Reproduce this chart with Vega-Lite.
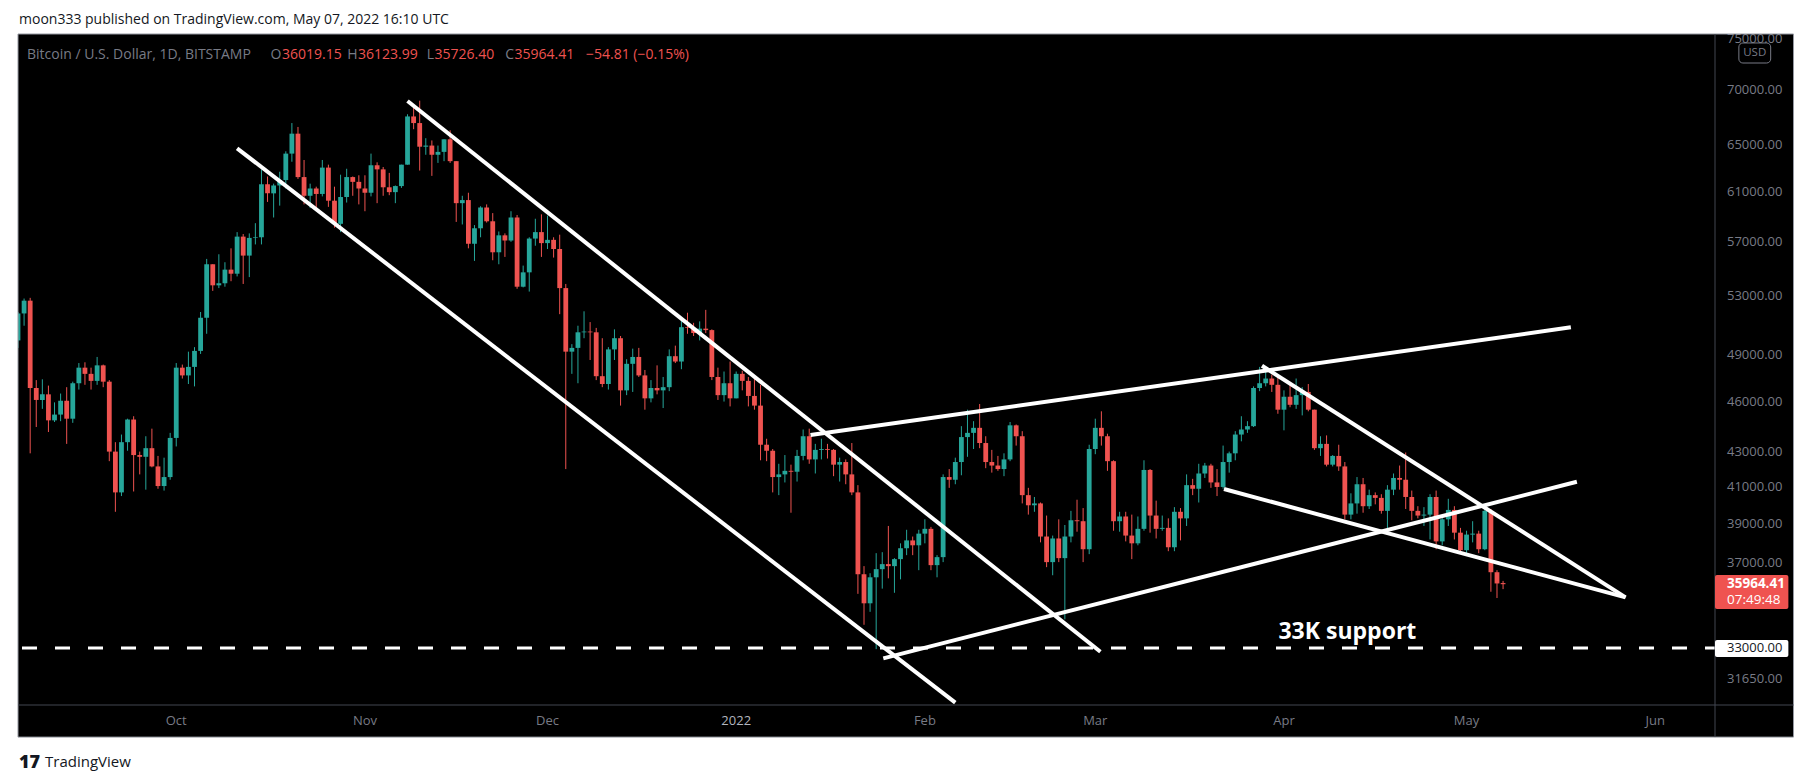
{
  "$schema": "https://vega.github.io/schema/vega-lite/v6.json",
  "width": 1707,
  "height": 671,
  "autosize": {"type": "none"},
  "padding": {"left": 13, "top": 34, "right": 93, "bottom": 78},
  "background": "#000000",
  "config": {"font": "Open Sans", "view": {"fill": "#000000", "stroke": null}},
  "datasets": {
    "btc": [
      {"d":"2021-09-05","o":49950,"h":51900,"l":49450,"c":51800},
      {"d":"2021-09-06","o":51800,"h":52850,"l":50950,"c":52700},
      {"d":"2021-09-07","o":52700,"h":52900,"l":42900,"c":46850},
      {"d":"2021-09-08","o":46850,"h":47350,"l":44450,"c":46100},
      {"d":"2021-09-09","o":46100,"h":47400,"l":45550,"c":46450},
      {"d":"2021-09-10","o":46450,"h":47000,"l":44150,"c":44850},
      {"d":"2021-09-11","o":44850,"h":45950,"l":44750,"c":45200},
      {"d":"2021-09-12","o":45200,"h":46500,"l":44800,"c":46050},
      {"d":"2021-09-13","o":46050,"h":46900,"l":43450,"c":44950},
      {"d":"2021-09-14","o":44950,"h":47250,"l":44700,"c":47150},
      {"d":"2021-09-15","o":47150,"h":48450,"l":46750,"c":48150},
      {"d":"2021-09-16","o":48150,"h":48500,"l":47050,"c":47750},
      {"d":"2021-09-17","o":47750,"h":48150,"l":46750,"c":47300},
      {"d":"2021-09-18","o":47300,"h":48850,"l":47050,"c":48300},
      {"d":"2021-09-19","o":48300,"h":48350,"l":46900,"c":47250},
      {"d":"2021-09-20","o":47250,"h":47350,"l":42450,"c":43000},
      {"d":"2021-09-21","o":43000,"h":43550,"l":39650,"c":40700},
      {"d":"2021-09-22","o":40700,"h":44000,"l":40500,"c":43550},
      {"d":"2021-09-23","o":43550,"h":44950,"l":43050,"c":44900},
      {"d":"2021-09-24","o":44900,"h":45100,"l":40750,"c":42800},
      {"d":"2021-09-25","o":42800,"h":43000,"l":41700,"c":42700},
      {"d":"2021-09-26","o":42700,"h":43900,"l":40850,"c":43200},
      {"d":"2021-09-27","o":43200,"h":44350,"l":42100,"c":42150},
      {"d":"2021-09-28","o":42150,"h":42750,"l":40900,"c":41050},
      {"d":"2021-09-29","o":41050,"h":42650,"l":40800,"c":41550},
      {"d":"2021-09-30","o":41550,"h":44100,"l":41400,"c":43800},
      {"d":"2021-10-01","o":43800,"h":48450,"l":43300,"c":48150},
      {"d":"2021-10-02","o":48150,"h":48350,"l":47450,"c":47650},
      {"d":"2021-10-03","o":47650,"h":49200,"l":47100,"c":48200},
      {"d":"2021-10-04","o":48200,"h":49500,"l":46950,"c":49250},
      {"d":"2021-10-05","o":49250,"h":51900,"l":49050,"c":51500},
      {"d":"2021-10-06","o":51500,"h":55750,"l":50400,"c":55350},
      {"d":"2021-10-07","o":55350,"h":55350,"l":53400,"c":53800},
      {"d":"2021-10-08","o":53800,"h":56100,"l":53600,"c":53950},
      {"d":"2021-10-09","o":53950,"h":55500,"l":53700,"c":54950},
      {"d":"2021-10-10","o":54950,"h":56550,"l":54100,"c":54650},
      {"d":"2021-10-11","o":54650,"h":57800,"l":54450,"c":57450},
      {"d":"2021-10-12","o":57450,"h":57650,"l":53900,"c":56000},
      {"d":"2021-10-13","o":56000,"h":57700,"l":54400,"c":57350},
      {"d":"2021-10-14","o":57350,"h":58500,"l":56850,"c":57400},
      {"d":"2021-10-15","o":57400,"h":62900,"l":56850,"c":61650},
      {"d":"2021-10-16","o":61650,"h":62300,"l":60200,"c":60900},
      {"d":"2021-10-17","o":60900,"h":61700,"l":58950,"c":61550},
      {"d":"2021-10-18","o":61550,"h":62700,"l":59900,"c":62000},
      {"d":"2021-10-19","o":62000,"h":64450,"l":61300,"c":64250},
      {"d":"2021-10-20","o":64250,"h":66950,"l":63550,"c":66000},
      {"d":"2021-10-21","o":66000,"h":66600,"l":62100,"c":62250},
      {"d":"2021-10-22","o":62250,"h":63700,"l":60000,"c":60700},
      {"d":"2021-10-23","o":60700,"h":61700,"l":59700,"c":61300},
      {"d":"2021-10-24","o":61300,"h":61450,"l":59500,"c":60850},
      {"d":"2021-10-25","o":60850,"h":63700,"l":60650,"c":63050},
      {"d":"2021-10-26","o":63050,"h":63300,"l":59800,"c":60300},
      {"d":"2021-10-27","o":60300,"h":61450,"l":58150,"c":58450},
      {"d":"2021-10-28","o":58450,"h":62450,"l":57800,"c":60600},
      {"d":"2021-10-29","o":60600,"h":62950,"l":60150,"c":62250},
      {"d":"2021-10-30","o":62250,"h":62300,"l":60700,"c":61850},
      {"d":"2021-10-31","o":61850,"h":62400,"l":60000,"c":61300},
      {"d":"2021-11-01","o":61300,"h":62400,"l":59450,"c":60950},
      {"d":"2021-11-02","o":60950,"h":64250,"l":60650,"c":63250},
      {"d":"2021-11-03","o":63250,"h":63500,"l":60100,"c":62900},
      {"d":"2021-11-04","o":62900,"h":63100,"l":60700,"c":61400},
      {"d":"2021-11-05","o":61400,"h":62600,"l":60750,"c":61000},
      {"d":"2021-11-06","o":61000,"h":61550,"l":60100,"c":61500},
      {"d":"2021-11-07","o":61500,"h":63300,"l":61350,"c":63300},
      {"d":"2021-11-08","o":63300,"h":67750,"l":63300,"c":67550},
      {"d":"2021-11-09","o":67550,"h":68500,"l":66400,"c":66950},
      {"d":"2021-11-10","o":66950,"h":69000,"l":62800,"c":64850},
      {"d":"2021-11-11","o":64850,"h":65600,"l":64150,"c":64950},
      {"d":"2021-11-12","o":64950,"h":65400,"l":62350,"c":64150},
      {"d":"2021-11-13","o":64150,"h":64950,"l":63450,"c":64400},
      {"d":"2021-11-14","o":64400,"h":65500,"l":63600,"c":65500},
      {"d":"2021-11-15","o":65500,"h":66300,"l":63450,"c":63600},
      {"d":"2021-11-16","o":63600,"h":63600,"l":58600,"c":60100},
      {"d":"2021-11-17","o":60100,"h":60700,"l":58400,"c":60350},
      {"d":"2021-11-18","o":60350,"h":60950,"l":56550,"c":56900},
      {"d":"2021-11-19","o":56900,"h":58350,"l":55600,"c":58100},
      {"d":"2021-11-20","o":58100,"h":59850,"l":57400,"c":59750},
      {"d":"2021-11-21","o":59750,"h":60000,"l":58550,"c":58650},
      {"d":"2021-11-22","o":58650,"h":59300,"l":55650,"c":56250},
      {"d":"2021-11-23","o":56250,"h":57850,"l":55350,"c":57550},
      {"d":"2021-11-24","o":57550,"h":57700,"l":55900,"c":57150},
      {"d":"2021-11-25","o":57150,"h":59450,"l":57050,"c":58950},
      {"d":"2021-11-26","o":58950,"h":59150,"l":53550,"c":53700},
      {"d":"2021-11-27","o":53700,"h":55250,"l":53650,"c":54750},
      {"d":"2021-11-28","o":54750,"h":57400,"l":53350,"c":57300},
      {"d":"2021-11-29","o":57300,"h":58850,"l":56750,"c":57800},
      {"d":"2021-11-30","o":57800,"h":59200,"l":55900,"c":56950},
      {"d":"2021-12-01","o":56950,"h":59100,"l":56500,"c":57200},
      {"d":"2021-12-02","o":57200,"h":57400,"l":55850,"c":56500},
      {"d":"2021-12-03","o":56500,"h":57600,"l":51750,"c":53600},
      {"d":"2021-12-04","o":53600,"h":53900,"l":42000,"c":49200},
      {"d":"2021-12-05","o":49200,"h":49700,"l":47750,"c":49450},
      {"d":"2021-12-06","o":49450,"h":50950,"l":47150,"c":50500},
      {"d":"2021-12-07","o":50500,"h":51950,"l":50100,"c":50550},
      {"d":"2021-12-08","o":50550,"h":51200,"l":48650,"c":50500},
      {"d":"2021-12-09","o":50500,"h":50800,"l":47350,"c":47600},
      {"d":"2021-12-10","o":47600,"h":50100,"l":46900,"c":47100},
      {"d":"2021-12-11","o":47100,"h":49500,"l":46750,"c":49350},
      {"d":"2021-12-12","o":49350,"h":50700,"l":48650,"c":50100},
      {"d":"2021-12-13","o":50100,"h":50250,"l":45750,"c":46700},
      {"d":"2021-12-14","o":46700,"h":48700,"l":46400,"c":48400},
      {"d":"2021-12-15","o":48400,"h":49400,"l":46600,"c":48850},
      {"d":"2021-12-16","o":48850,"h":49450,"l":47550,"c":47650},
      {"d":"2021-12-17","o":47650,"h":48000,"l":45500,"c":46200},
      {"d":"2021-12-18","o":46200,"h":47350,"l":45950,"c":46850},
      {"d":"2021-12-19","o":46850,"h":48300,"l":46450,"c":46700},
      {"d":"2021-12-20","o":46700,"h":47550,"l":45600,"c":46900},
      {"d":"2021-12-21","o":46900,"h":49350,"l":46650,"c":48900},
      {"d":"2021-12-22","o":48900,"h":49600,"l":48450,"c":48550},
      {"d":"2021-12-23","o":48550,"h":51350,"l":48050,"c":50850},
      {"d":"2021-12-24","o":50850,"h":51850,"l":50400,"c":50800},
      {"d":"2021-12-25","o":50800,"h":51150,"l":50250,"c":50450},
      {"d":"2021-12-26","o":50450,"h":51250,"l":49950,"c":50750},
      {"d":"2021-12-27","o":50750,"h":52050,"l":50450,"c":50650},
      {"d":"2021-12-28","o":50650,"h":50700,"l":47350,"c":47550},
      {"d":"2021-12-29","o":47550,"h":48150,"l":46100,"c":46400},
      {"d":"2021-12-30","o":46400,"h":47900,"l":46000,"c":47150},
      {"d":"2021-12-31","o":47150,"h":48550,"l":45700,"c":46200},
      {"d":"2022-01-01","o":46200,"h":47900,"l":46200,"c":47750},
      {"d":"2022-01-02","o":47750,"h":47950,"l":46700,"c":47300},
      {"d":"2022-01-03","o":47300,"h":47550,"l":45700,"c":46350},
      {"d":"2022-01-04","o":46350,"h":47500,"l":45500,"c":45750},
      {"d":"2022-01-05","o":45750,"h":47050,"l":42500,"c":43400},
      {"d":"2022-01-06","o":43400,"h":43750,"l":42450,"c":43050},
      {"d":"2022-01-07","o":43050,"h":43150,"l":40700,"c":41550},
      {"d":"2022-01-08","o":41550,"h":42300,"l":40550,"c":41700},
      {"d":"2022-01-09","o":41700,"h":42800,"l":41250,"c":41900},
      {"d":"2022-01-10","o":41900,"h":42250,"l":39600,"c":41850},
      {"d":"2022-01-11","o":41850,"h":43100,"l":41300,"c":42750},
      {"d":"2022-01-12","o":42750,"h":44300,"l":42500,"c":43900},
      {"d":"2022-01-13","o":43900,"h":44350,"l":42300,"c":42550},
      {"d":"2022-01-14","o":42550,"h":43450,"l":41750,"c":43100},
      {"d":"2022-01-15","o":43100,"h":43750,"l":42550,"c":43150},
      {"d":"2022-01-16","o":43150,"h":43450,"l":42600,"c":43100},
      {"d":"2022-01-17","o":43100,"h":43150,"l":41600,"c":42250},
      {"d":"2022-01-18","o":42250,"h":42650,"l":41300,"c":42400},
      {"d":"2022-01-19","o":42400,"h":42550,"l":41150,"c":41700},
      {"d":"2022-01-20","o":41700,"h":43500,"l":40550,"c":40700},
      {"d":"2022-01-21","o":40700,"h":41100,"l":35500,"c":36450},
      {"d":"2022-01-22","o":36450,"h":36850,"l":34050,"c":35050},
      {"d":"2022-01-23","o":35050,"h":36500,"l":34650,"c":36300},
      {"d":"2022-01-24","o":36300,"h":37500,"l":32950,"c":36700},
      {"d":"2022-01-25","o":36700,"h":37550,"l":35750,"c":36950},
      {"d":"2022-01-26","o":36950,"h":38900,"l":36250,"c":36850},
      {"d":"2022-01-27","o":36850,"h":37250,"l":35550,"c":37200},
      {"d":"2022-01-28","o":37200,"h":38000,"l":36200,"c":37750},
      {"d":"2022-01-29","o":37750,"h":38700,"l":37400,"c":38150},
      {"d":"2022-01-30","o":38150,"h":38350,"l":37400,"c":37900},
      {"d":"2022-01-31","o":37900,"h":38700,"l":36650,"c":38500},
      {"d":"2022-02-01","o":38500,"h":39250,"l":38000,"c":38750},
      {"d":"2022-02-02","o":38750,"h":38850,"l":36650,"c":36900},
      {"d":"2022-02-03","o":36900,"h":37400,"l":36300,"c":37300},
      {"d":"2022-02-04","o":37300,"h":41700,"l":37050,"c":41550},
      {"d":"2022-02-05","o":41550,"h":42000,"l":40950,"c":41400},
      {"d":"2022-02-06","o":41400,"h":42650,"l":41150,"c":42400},
      {"d":"2022-02-07","o":42400,"h":44500,"l":41650,"c":43850},
      {"d":"2022-02-08","o":43850,"h":45500,"l":42700,"c":44100},
      {"d":"2022-02-09","o":44100,"h":44800,"l":43150,"c":44400},
      {"d":"2022-02-10","o":44400,"h":45850,"l":43200,"c":43500},
      {"d":"2022-02-11","o":43500,"h":43900,"l":42050,"c":42400},
      {"d":"2022-02-12","o":42400,"h":43100,"l":41800,"c":42200},
      {"d":"2022-02-13","o":42200,"h":42750,"l":41900,"c":42000},
      {"d":"2022-02-14","o":42000,"h":42900,"l":41600,"c":42550},
      {"d":"2022-02-15","o":42550,"h":44750,"l":42450,"c":44550},
      {"d":"2022-02-16","o":44550,"h":44600,"l":43350,"c":43900},
      {"d":"2022-02-17","o":43900,"h":44200,"l":40100,"c":40550},
      {"d":"2022-02-18","o":40550,"h":40950,"l":39500,"c":40000},
      {"d":"2022-02-19","o":40000,"h":40450,"l":39650,"c":40100},
      {"d":"2022-02-20","o":40100,"h":40150,"l":38050,"c":38350},
      {"d":"2022-02-21","o":38350,"h":39450,"l":36800,"c":37050},
      {"d":"2022-02-22","o":37050,"h":38400,"l":36400,"c":38250},
      {"d":"2022-02-23","o":38250,"h":39250,"l":37050,"c":37250},
      {"d":"2022-02-24","o":37250,"h":38950,"l":34300,"c":38350},
      {"d":"2022-02-25","o":38350,"h":39700,"l":38050,"c":39200},
      {"d":"2022-02-26","o":39200,"h":40300,"l":38600,"c":39150},
      {"d":"2022-02-27","o":39150,"h":39850,"l":37050,"c":37700},
      {"d":"2022-02-28","o":37700,"h":43400,"l":37450,"c":43150},
      {"d":"2022-03-01","o":43150,"h":44950,"l":42850,"c":44400},
      {"d":"2022-03-02","o":44400,"h":45400,"l":43350,"c":43900},
      {"d":"2022-03-03","o":43900,"h":44050,"l":41900,"c":42450},
      {"d":"2022-03-04","o":42450,"h":42500,"l":38650,"c":39150},
      {"d":"2022-03-05","o":39150,"h":39650,"l":38600,"c":39400},
      {"d":"2022-03-06","o":39400,"h":39650,"l":38100,"c":38400},
      {"d":"2022-03-07","o":38400,"h":39500,"l":37200,"c":38000},
      {"d":"2022-03-08","o":38000,"h":39400,"l":37900,"c":38750},
      {"d":"2022-03-09","o":38750,"h":42500,"l":38650,"c":41950},
      {"d":"2022-03-10","o":41950,"h":42000,"l":38550,"c":39450},
      {"d":"2022-03-11","o":39450,"h":40250,"l":38250,"c":38750},
      {"d":"2022-03-12","o":38750,"h":39450,"l":38650,"c":38800},
      {"d":"2022-03-13","o":38800,"h":39300,"l":37600,"c":37800},
      {"d":"2022-03-14","o":37800,"h":39900,"l":37600,"c":39650},
      {"d":"2022-03-15","o":39650,"h":39850,"l":38150,"c":39300},
      {"d":"2022-03-16","o":39300,"h":41700,"l":38900,"c":41100},
      {"d":"2022-03-17","o":41100,"h":41450,"l":40550,"c":40900},
      {"d":"2022-03-18","o":40900,"h":42300,"l":40150,"c":41750},
      {"d":"2022-03-19","o":41750,"h":42350,"l":41500,"c":42200},
      {"d":"2022-03-20","o":42200,"h":42300,"l":40950,"c":41250},
      {"d":"2022-03-21","o":41250,"h":42000,"l":40500,"c":41000},
      {"d":"2022-03-22","o":41000,"h":43350,"l":40900,"c":42400},
      {"d":"2022-03-23","o":42400,"h":43000,"l":41800,"c":42900},
      {"d":"2022-03-24","o":42900,"h":44200,"l":42500,"c":44000},
      {"d":"2022-03-25","o":44000,"h":45100,"l":43600,"c":44300},
      {"d":"2022-03-26","o":44300,"h":44800,"l":44100,"c":44500},
      {"d":"2022-03-27","o":44500,"h":46950,"l":44450,"c":46850},
      {"d":"2022-03-28","o":46850,"h":48200,"l":46650,"c":47150},
      {"d":"2022-03-29","o":47150,"h":48100,"l":46950,"c":47450},
      {"d":"2022-03-30","o":47450,"h":47700,"l":46600,"c":47050},
      {"d":"2022-03-31","o":47050,"h":47600,"l":45250,"c":45500},
      {"d":"2022-04-01","o":45500,"h":46700,"l":44250,"c":46300},
      {"d":"2022-04-02","o":46300,"h":47200,"l":45650,"c":45800},
      {"d":"2022-04-03","o":45800,"h":47450,"l":45550,"c":46400},
      {"d":"2022-04-04","o":46400,"h":46900,"l":45150,"c":46600},
      {"d":"2022-04-05","o":46600,"h":47100,"l":45400,"c":45500},
      {"d":"2022-04-06","o":45500,"h":45500,"l":43100,"c":43200},
      {"d":"2022-04-07","o":43200,"h":43900,"l":42750,"c":43450},
      {"d":"2022-04-08","o":43450,"h":43950,"l":42150,"c":42250},
      {"d":"2022-04-09","o":42250,"h":42800,"l":42150,"c":42750},
      {"d":"2022-04-10","o":42750,"h":43400,"l":41900,"c":42150},
      {"d":"2022-04-11","o":42150,"h":42400,"l":39250,"c":39500},
      {"d":"2022-04-12","o":39500,"h":40650,"l":39250,"c":40100},
      {"d":"2022-04-13","o":40100,"h":41550,"l":39550,"c":41150},
      {"d":"2022-04-14","o":41150,"h":41500,"l":39600,"c":39950},
      {"d":"2022-04-15","o":39950,"h":40850,"l":39800,"c":40550},
      {"d":"2022-04-16","o":40550,"h":40700,"l":40050,"c":40400},
      {"d":"2022-04-17","o":40400,"h":40600,"l":39550,"c":39700},
      {"d":"2022-04-18","o":39700,"h":41100,"l":38550,"c":40850},
      {"d":"2022-04-19","o":40850,"h":41750,"l":40550,"c":41500},
      {"d":"2022-04-20","o":41500,"h":42200,"l":40850,"c":41400},
      {"d":"2022-04-21","o":41400,"h":42950,"l":39800,"c":40450},
      {"d":"2022-04-22","o":40450,"h":40800,"l":39200,"c":39700},
      {"d":"2022-04-23","o":39700,"h":39950,"l":39300,"c":39450},
      {"d":"2022-04-24","o":39450,"h":39900,"l":38900,"c":39500},
      {"d":"2022-04-25","o":39500,"h":40600,"l":38200,"c":40450},
      {"d":"2022-04-26","o":40450,"h":40800,"l":37700,"c":38100},
      {"d":"2022-04-27","o":38100,"h":39450,"l":37900,"c":39250},
      {"d":"2022-04-28","o":39250,"h":40350,"l":38900,"c":39750},
      {"d":"2022-04-29","o":39750,"h":39950,"l":38200,"c":38550},
      {"d":"2022-04-30","o":38550,"h":38800,"l":37600,"c":37650},
      {"d":"2022-05-01","o":37650,"h":38650,"l":37400,"c":38450},
      {"d":"2022-05-02","o":38450,"h":39150,"l":38050,"c":38500},
      {"d":"2022-05-03","o":38500,"h":38650,"l":37500,"c":37700},
      {"d":"2022-05-04","o":37700,"h":40000,"l":37650,"c":39700},
      {"d":"2022-05-05","o":39700,"h":39800,"l":35600,"c":36550},
      {"d":"2022-05-06","o":36550,"h":36650,"l":35300,"c":36000},
      {"d":"2022-05-07","o":36019.15,"h":36123.99,"l":35726.4,"c":35964.41}
    ],
    "trendlines": [
      {"x1":"2021-10-11T00:00:00Z","y1":64711,"x2":"2022-02-06T00:00:00Z","y2":30657},
      {"x1":"2021-11-08T00:00:00Z","y1":68970,"x2":"2022-03-01T20:10:00Z","y2":32835},
      {"x1":"2022-01-13T05:00:00Z","y1":43970,"x2":"2022-05-18T03:20:00Z","y2":50841},
      {"x1":"2022-01-25T04:00:00Z","y1":32545,"x2":"2022-05-19T03:00:00Z","y2":41286},
      {"x1":"2022-03-28T09:20:00Z","y1":48276,"x2":"2022-05-27T03:00:00Z","y2":35330},
      {"x1":"2022-03-22T03:20:00Z","y1":40886,"x2":"2022-05-27T03:00:00Z","y2":35330}
    ],
    "yticks": [
      {"v": 31650}, {"v": 37000}, {"v": 39000}, {"v": 41000}, {"v": 43000}, {"v": 46000},
      {"v": 49000}, {"v": 53000}, {"v": 57000}, {"v": 61000}, {"v": 65000}, {"v": 70000}, {"v": 75000}
    ],
    "xticks": [
      {"m": "2021-10-01", "t": "Oct"}, {"m": "2021-11-01", "t": "Nov"}, {"m": "2021-12-01", "t": "Dec"},
      {"m": "2022-01-01", "t": "2022"}, {"m": "2022-02-01", "t": "Feb"}, {"m": "2022-03-01", "t": "Mar"},
      {"m": "2022-04-01", "t": "Apr"}, {"m": "2022-05-01", "t": "May"}, {"m": "2022-06-01", "t": "Jun"}
    ]
  },
  "layer": [
    {
      "data": {"name": "btc"},
      "mark": {"type": "rule", "strokeWidth": 1, "clip": true},
      "encoding": {
        "x": {"field": "d", "type": "temporal", "axis": null,
              "scale": {"type": "utc", "nice": false, "domain": [{"year": 2021, "month": 9, "date": 5, "utc": true}, {"year": 2022, "month": 6, "date": 10, "hours": 19, "minutes": 40, "utc": true}]}},
        "y": {"field": "l", "type": "quantitative", "axis": null,
              "scale": {"type": "log", "nice": false, "zero": false, "domain": [30561, 75488]}},
        "y2": {"field": "h"},
        "color": {"condition": {"test": "datum.c >= datum.o", "value": "#26a69a"}, "value": "#ef5350"}
      }
    },
    {
      "data": {"name": "btc"},
      "mark": {"type": "bar", "width": 4.8, "clip": true},
      "encoding": {
        "x": {"field": "d", "type": "temporal", "axis": null,
              "scale": {"type": "utc", "nice": false, "domain": [{"year": 2021, "month": 9, "date": 5, "utc": true}, {"year": 2022, "month": 6, "date": 10, "hours": 19, "minutes": 40, "utc": true}]}},
        "y": {"field": "o", "type": "quantitative", "axis": null,
              "scale": {"type": "log", "nice": false, "zero": false, "domain": [30561, 75488]}},
        "y2": {"field": "c"},
        "color": {"condition": {"test": "datum.c >= datum.o", "value": "#26a69a"}, "value": "#ef5350"}
      }
    },
    {
      "data": {"name": "trendlines"},
      "mark": {"type": "rule", "color": "#ffffff", "strokeWidth": 4, "clip": true},
      "encoding": {
        "x": {"field": "x1", "type": "temporal", "axis": null,
              "scale": {"type": "utc", "nice": false, "domain": [{"year": 2021, "month": 9, "date": 5, "utc": true}, {"year": 2022, "month": 6, "date": 10, "hours": 19, "minutes": 40, "utc": true}]}},
        "x2": {"field": "x2"},
        "y": {"field": "y1", "type": "quantitative", "axis": null,
              "scale": {"type": "log", "nice": false, "zero": false, "domain": [30561, 75488]}},
        "y2": {"field": "y2"}
      }
    },
    {
      "data": {"values": [{}]},
      "mark": {"type": "rule", "color": "#ffffff", "strokeWidth": 3, "strokeDash": [15, 18]},
      "encoding": {
        "y": {"datum": 33000, "type": "quantitative", "axis": null,
              "scale": {"type": "log", "nice": false, "zero": false, "domain": [30561, 75488]}}
      }
    },
    {
      "data": {"values": [{}]},
      "mark": {"type": "text", "text": "33K support", "color": "#ffffff", "font": "Open Sans", "fontSize": 23, "fontWeight": "bold", "align": "center", "baseline": "alphabetic", "dy": -9},
      "encoding": {
        "x": {"datum": {"year": 2022, "month": 4, "date": 11, "hours": 10, "utc": true}, "type": "temporal", "axis": null,
              "scale": {"type": "utc", "nice": false, "domain": [{"year": 2021, "month": 9, "date": 5, "utc": true}, {"year": 2022, "month": 6, "date": 10, "hours": 19, "minutes": 40, "utc": true}]}},
        "y": {"datum": 33000, "type": "quantitative", "axis": null,
              "scale": {"type": "log", "nice": false, "zero": false, "domain": [30561, 75488]}}
      }
    },
    {
      "data": {"name": "yticks"},
      "mark": {"type": "text", "color": "#787b86", "fontSize": 13, "align": "left", "baseline": "middle", "dx": 12, "clip": false},
      "encoding": {
        "x": {"datum": {"year": 2022, "month": 6, "date": 10, "hours": 19, "minutes": 40, "utc": true}, "type": "temporal", "axis": null,
              "scale": {"type": "utc", "nice": false, "domain": [{"year": 2021, "month": 9, "date": 5, "utc": true}, {"year": 2022, "month": 6, "date": 10, "hours": 19, "minutes": 40, "utc": true}]}},
        "y": {"field": "v", "type": "quantitative", "axis": null,
              "scale": {"type": "log", "nice": false, "zero": false, "domain": [30561, 75488]}},
        "text": {"field": "v", "type": "quantitative", "format": ".2f"}
      }
    },
    {
      "data": {"name": "xticks"},
      "mark": {"type": "text", "fontSize": 13, "align": "center", "baseline": "middle", "dy": 16, "clip": false},
      "encoding": {
        "x": {"field": "m", "type": "temporal", "axis": null,
              "scale": {"type": "utc", "nice": false, "domain": [{"year": 2021, "month": 9, "date": 5, "utc": true}, {"year": 2022, "month": 6, "date": 10, "hours": 19, "minutes": 40, "utc": true}]}},
        "y": {"datum": 30561, "type": "quantitative", "axis": null,
              "scale": {"type": "log", "nice": false, "zero": false, "domain": [30561, 75488]}},
        "text": {"field": "t"},
        "color": {"condition": {"test": "datum.t == '2022'", "value": "#b2b5be"}, "value": "#787b86"},
        "fontWeight": {"condition": {"test": "datum.t == '2022'", "value": "bold"}, "value": "normal"}
      }
    },
    {
      "data": {"values": [{}]},
      "mark": {"type": "rect", "fill": "#ffffff", "clip": false},
      "encoding": {
        "x": {"datum": {"year": 2021, "month": 8, "date": 1, "utc": true}, "type": "temporal", "axis": null,
              "scale": {"type": "utc", "nice": false, "domain": [{"year": 2021, "month": 9, "date": 5, "utc": true}, {"year": 2022, "month": 6, "date": 10, "hours": 19, "minutes": 40, "utc": true}]}},
        "x2": {"datum": {"year": 2022, "month": 8, "date": 1, "utc": true}},
        "y": {"datum": 75488, "type": "quantitative", "axis": null,
              "scale": {"type": "log", "nice": false, "zero": false, "domain": [30561, 75488]}},
        "y2": {"datum": 100000}
      }
    },
    {
      "data": {"values": [{}]},
      "mark": {"type": "rect", "fill": "#ffffff", "clip": false},
      "encoding": {
        "x": {"datum": {"year": 2021, "month": 8, "date": 1, "utc": true}, "type": "temporal", "axis": null,
              "scale": {"type": "utc", "nice": false, "domain": [{"year": 2021, "month": 9, "date": 5, "utc": true}, {"year": 2022, "month": 6, "date": 10, "hours": 19, "minutes": 40, "utc": true}]}},
        "x2": {"datum": {"year": 2022, "month": 8, "date": 1, "utc": true}},
        "y": {"datum": 29268, "type": "quantitative", "axis": null,
              "scale": {"type": "log", "nice": false, "zero": false, "domain": [30561, 75488]}},
        "y2": {"datum": 20000}
      }
    },
    {
      "data": {"values": [{}]},
      "mark": {"type": "rect", "fill": "#ffffff", "clip": false},
      "encoding": {
        "x": {"datum": {"year": 2021, "month": 8, "date": 1, "utc": true}, "type": "temporal", "axis": null,
              "scale": {"type": "utc", "nice": false, "domain": [{"year": 2021, "month": 9, "date": 5, "utc": true}, {"year": 2022, "month": 6, "date": 10, "hours": 19, "minutes": 40, "utc": true}]}},
        "x2": {"datum": {"year": 2021, "month": 9, "date": 5, "utc": true}},
        "y": {"datum": 29268, "type": "quantitative", "axis": null,
              "scale": {"type": "log", "nice": false, "zero": false, "domain": [30561, 75488]}},
        "y2": {"datum": 75488}
      }
    },
    {
      "data": {"values": [{}]},
      "mark": {"type": "rect", "fill": "#ffffff", "clip": false},
      "encoding": {
        "x": {"datum": {"year": 2022, "month": 6, "date": 23, "hours": 17, "minutes": 16, "utc": true}, "type": "temporal", "axis": null,
              "scale": {"type": "utc", "nice": false, "domain": [{"year": 2021, "month": 9, "date": 5, "utc": true}, {"year": 2022, "month": 6, "date": 10, "hours": 19, "minutes": 40, "utc": true}]}},
        "x2": {"datum": {"year": 2022, "month": 8, "date": 1, "utc": true}},
        "y": {"datum": 29268, "type": "quantitative", "axis": null,
              "scale": {"type": "log", "nice": false, "zero": false, "domain": [30561, 75488]}},
        "y2": {"datum": 75488}
      }
    },
    {
      "data": {"values": [{}]},
      "mark": {"type": "rect", "fill": null, "stroke": "#9598a1", "strokeWidth": 1, "clip": false},
      "encoding": {
        "x": {"datum": {"year": 2021, "month": 9, "date": 5, "utc": true}, "type": "temporal", "axis": null,
              "scale": {"type": "utc", "nice": false, "domain": [{"year": 2021, "month": 9, "date": 5, "utc": true}, {"year": 2022, "month": 6, "date": 10, "hours": 19, "minutes": 40, "utc": true}]}},
        "x2": {"datum": {"year": 2022, "month": 6, "date": 23, "hours": 17, "minutes": 16, "utc": true}},
        "y": {"datum": 75488, "type": "quantitative", "axis": null,
              "scale": {"type": "log", "nice": false, "zero": false, "domain": [30561, 75488]}},
        "y2": {"datum": 29268}
      }
    },
    {
      "data": {"values": [{}]},
      "mark": {"type": "rule", "color": "#434651", "strokeWidth": 1, "clip": false},
      "encoding": {
        "x": {"datum": {"year": 2022, "month": 6, "date": 10, "hours": 19, "minutes": 40, "utc": true}, "type": "temporal", "axis": null,
              "scale": {"type": "utc", "nice": false, "domain": [{"year": 2021, "month": 9, "date": 5, "utc": true}, {"year": 2022, "month": 6, "date": 10, "hours": 19, "minutes": 40, "utc": true}]}},
        "y": {"datum": 75488, "type": "quantitative", "axis": null,
              "scale": {"type": "log", "nice": false, "zero": false, "domain": [30561, 75488]}},
        "y2": {"datum": 29268}
      }
    },
    {
      "data": {"values": [{}]},
      "mark": {"type": "rule", "color": "#434651", "strokeWidth": 1, "clip": false},
      "encoding": {
        "x": {"datum": {"year": 2021, "month": 9, "date": 5, "utc": true}, "type": "temporal", "axis": null,
              "scale": {"type": "utc", "nice": false, "domain": [{"year": 2021, "month": 9, "date": 5, "utc": true}, {"year": 2022, "month": 6, "date": 10, "hours": 19, "minutes": 40, "utc": true}]}},
        "x2": {"datum": {"year": 2022, "month": 6, "date": 23, "hours": 17, "minutes": 16, "utc": true}},
        "y": {"datum": 30561, "type": "quantitative", "axis": null,
              "scale": {"type": "log", "nice": false, "zero": false, "domain": [30561, 75488]}}
      }
    },
    {
      "data": {"values": [{}]},
      "mark": {"type": "rect", "fill": "#ef5350", "cornerRadius": 2, "clip": false},
      "encoding": {
        "x": {"datum": {"year": 2022, "month": 6, "date": 10, "hours": 19, "minutes": 40, "utc": true}, "type": "temporal", "axis": null,
              "scale": {"type": "utc", "nice": false, "domain": [{"year": 2021, "month": 9, "date": 5, "utc": true}, {"year": 2022, "month": 6, "date": 10, "hours": 19, "minutes": 40, "utc": true}]}},
        "x2": {"datum": {"year": 2022, "month": 6, "date": 22, "hours": 21, "utc": true}},
        "y": {"datum": 36414, "type": "quantitative", "axis": null,
              "scale": {"type": "log", "nice": false, "zero": false, "domain": [30561, 75488]}},
        "y2": {"datum": 34783}
      }
    },
    {
      "data": {"values": [{}]},
      "mark": {"type": "rect", "fill": "#ffffff", "cornerRadius": 2, "clip": false},
      "encoding": {
        "x": {"datum": {"year": 2022, "month": 6, "date": 10, "hours": 19, "minutes": 40, "utc": true}, "type": "temporal", "axis": null,
              "scale": {"type": "utc", "nice": false, "domain": [{"year": 2021, "month": 9, "date": 5, "utc": true}, {"year": 2022, "month": 6, "date": 10, "hours": 19, "minutes": 40, "utc": true}]}},
        "x2": {"datum": {"year": 2022, "month": 6, "date": 22, "hours": 21, "utc": true}},
        "y": {"datum": 33355, "type": "quantitative", "axis": null,
              "scale": {"type": "log", "nice": false, "zero": false, "domain": [30561, 75488]}},
        "y2": {"datum": 32600}
      }
    },
    {
      "data": {"values": [{}]},
      "mark": {"type": "rect", "fill": "#000000", "stroke": "#787b86", "strokeWidth": 1, "cornerRadius": 4, "clip": false},
      "encoding": {
        "x": {"datum": {"year": 2022, "month": 6, "date": 14, "hours": 17, "minutes": 45, "utc": true}, "type": "temporal", "axis": null,
              "scale": {"type": "utc", "nice": false, "domain": [{"year": 2021, "month": 9, "date": 5, "utc": true}, {"year": 2022, "month": 6, "date": 10, "hours": 19, "minutes": 40, "utc": true}]}},
        "x2": {"datum": {"year": 2022, "month": 6, "date": 19, "hours": 23, "minutes": 15, "utc": true}},
        "y": {"datum": 74580, "type": "quantitative", "axis": null,
              "scale": {"type": "log", "nice": false, "zero": false, "domain": [30561, 75488]}},
        "y2": {"datum": 72594}
      }
    },
    {
      "data": {"values": [{}]},
      "mark": {"type": "text", "text": "USD", "color": "#787b86", "fontSize": 11.5, "align": "center", "baseline": "middle", "clip": false},
      "encoding": {
        "x": {"datum": {"year": 2022, "month": 6, "date": 17, "hours": 8, "minutes": 25, "utc": true}, "type": "temporal", "axis": null,
              "scale": {"type": "utc", "nice": false, "domain": [{"year": 2021, "month": 9, "date": 5, "utc": true}, {"year": 2022, "month": 6, "date": 10, "hours": 19, "minutes": 40, "utc": true}]}},
        "y": {"datum": 73580, "type": "quantitative", "axis": null,
              "scale": {"type": "log", "nice": false, "zero": false, "domain": [30561, 75488]}}
      }
    },
    {
      "data": {"values": [{}]},
      "layer": [
        {"mark": {"type": "text", "text": "35964.41", "color": "#ffffff", "fontSize": 13.5, "fontWeight": "bold", "align": "left", "baseline": "middle", "dx": 12, "clip": false}},
        {"mark": {"type": "text", "text": "07:49:48", "color": "#ffffff", "fontSize": 13.5, "align": "left", "baseline": "middle", "dx": 12, "dy": 16, "clip": false}}
      ],
      "encoding": {
        "x": {"datum": {"year": 2022, "month": 6, "date": 10, "hours": 19, "minutes": 40, "utc": true}, "type": "temporal", "axis": null,
              "scale": {"type": "utc", "nice": false, "domain": [{"year": 2021, "month": 9, "date": 5, "utc": true}, {"year": 2022, "month": 6, "date": 10, "hours": 19, "minutes": 40, "utc": true}]}},
        "y": {"datum": 35964.41, "type": "quantitative", "axis": null,
              "scale": {"type": "log", "nice": false, "zero": false, "domain": [30561, 75488]}}
      }
    },
    {
      "data": {"values": [{}]},
      "mark": {"type": "text", "text": "33000.00", "color": "#131722", "fontSize": 13, "align": "left", "baseline": "middle", "dx": 12, "clip": false},
      "encoding": {
        "x": {"datum": {"year": 2022, "month": 6, "date": 10, "hours": 19, "minutes": 40, "utc": true}, "type": "temporal", "axis": null,
              "scale": {"type": "utc", "nice": false, "domain": [{"year": 2021, "month": 9, "date": 5, "utc": true}, {"year": 2022, "month": 6, "date": 10, "hours": 19, "minutes": 40, "utc": true}]}},
        "y": {"datum": 33000, "type": "quantitative", "axis": null,
              "scale": {"type": "log", "nice": false, "zero": false, "domain": [30561, 75488]}}
      }
    },
    {
      "data": {"values": [{}]},
      "layer": [
        {"mark": {"type": "text", "text": "moon333 published on TradingView.com, May 07, 2022 16:10 UTC", "color": "#131722", "fontSize": 14, "align": "left", "baseline": "alphabetic", "dx": 1, "dy": -10.5, "clip": false}},
        {"mark": {"type": "text", "text": "Bitcoin / U.S. Dollar, 1D, BITSTAMP", "color": "#787b86", "fontSize": 14, "align": "left", "baseline": "alphabetic", "dx": 9, "dy": 24.7}},
        {"mark": {"type": "text", "text": "O", "color": "#787b86", "fontSize": 14, "align": "right", "baseline": "alphabetic", "dx": 263.5, "dy": 24.7}},
        {"mark": {"type": "text", "text": "36019.15", "color": "#ef5350", "fontSize": 14, "align": "left", "baseline": "alphabetic", "dx": 264, "dy": 24.7}},
        {"mark": {"type": "text", "text": "H", "color": "#787b86", "fontSize": 14, "align": "right", "baseline": "alphabetic", "dx": 339.5, "dy": 24.7}},
        {"mark": {"type": "text", "text": "36123.99", "color": "#ef5350", "fontSize": 14, "align": "left", "baseline": "alphabetic", "dx": 340, "dy": 24.7}},
        {"mark": {"type": "text", "text": "L", "color": "#787b86", "fontSize": 14, "align": "right", "baseline": "alphabetic", "dx": 416, "dy": 24.7}},
        {"mark": {"type": "text", "text": "35726.40", "color": "#ef5350", "fontSize": 14, "align": "left", "baseline": "alphabetic", "dx": 416.5, "dy": 24.7}},
        {"mark": {"type": "text", "text": "C", "color": "#787b86", "fontSize": 14, "align": "right", "baseline": "alphabetic", "dx": 496, "dy": 24.7}},
        {"mark": {"type": "text", "text": "35964.41", "color": "#ef5350", "fontSize": 14, "align": "left", "baseline": "alphabetic", "dx": 496.5, "dy": 24.7}},
        {"mark": {"type": "text", "text": "−54.81 (−0.15%)", "color": "#ef5350", "fontSize": 14, "align": "left", "baseline": "alphabetic", "dx": 568, "dy": 24.7}}
      ],
      "encoding": {
        "x": {"datum": {"year": 2021, "month": 9, "date": 5, "utc": true}, "type": "temporal", "axis": null,
              "scale": {"type": "utc", "nice": false, "domain": [{"year": 2021, "month": 9, "date": 5, "utc": true}, {"year": 2022, "month": 6, "date": 10, "hours": 19, "minutes": 40, "utc": true}]}},
        "y": {"datum": 75488, "type": "quantitative", "axis": null,
              "scale": {"type": "log", "nice": false, "zero": false, "domain": [30561, 75488]}}
      }
    },
    {
      "data": {"values": [{}]},
      "layer": [
        {"mark": {"type": "text", "text": "17", "color": "#131722", "fontSize": 18, "fontWeight": 900, "align": "left", "baseline": "alphabetic", "dx": 1, "dy": 63, "clip": false}},
        {"mark": {"type": "text", "text": "TradingView", "color": "#131722", "fontSize": 15, "align": "left", "baseline": "alphabetic", "dx": 27, "dy": 62, "clip": false}}
      ],
      "encoding": {
        "x": {"datum": {"year": 2021, "month": 9, "date": 5, "utc": true}, "type": "temporal", "axis": null,
              "scale": {"type": "utc", "nice": false, "domain": [{"year": 2021, "month": 9, "date": 5, "utc": true}, {"year": 2022, "month": 6, "date": 10, "hours": 19, "minutes": 40, "utc": true}]}},
        "y": {"datum": 30561, "type": "quantitative", "axis": null,
              "scale": {"type": "log", "nice": false, "zero": false, "domain": [30561, 75488]}}
      }
    }
  ]
}
